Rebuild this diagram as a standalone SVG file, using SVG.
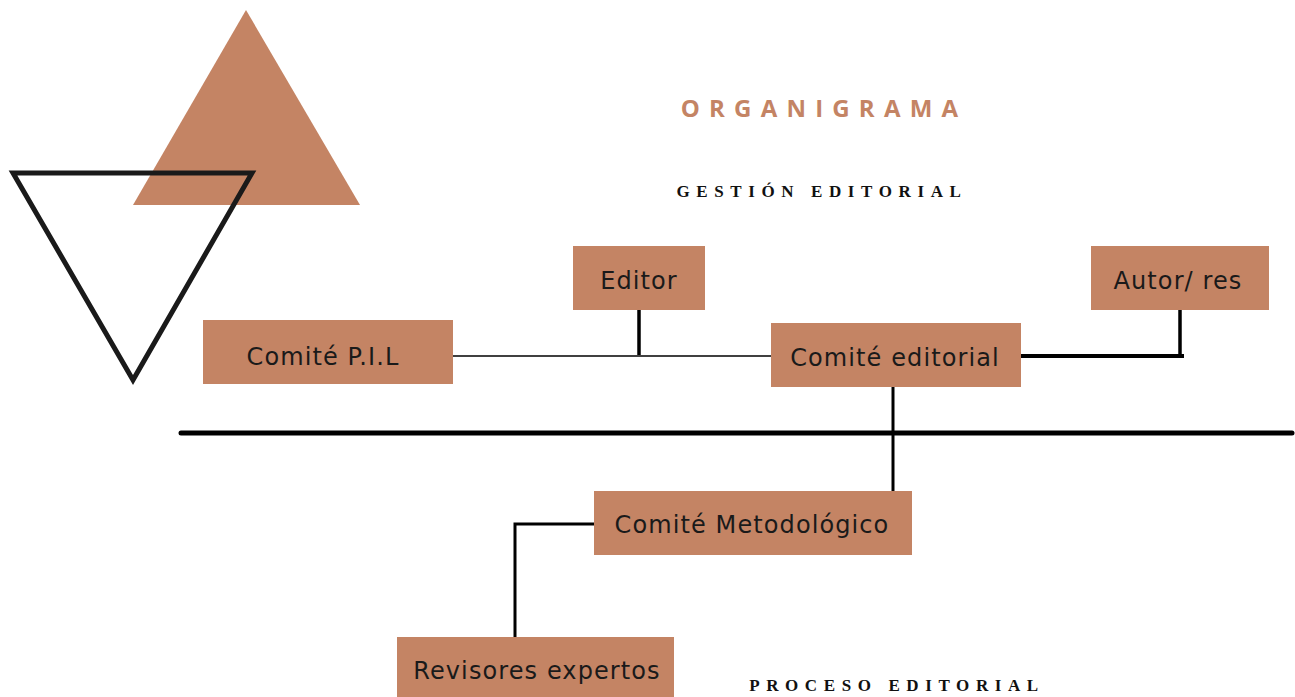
<svg xmlns="http://www.w3.org/2000/svg" width="1295" height="697" viewBox="0 0 1295 697">
<style>
.box{fill:#C48464}
.lbl{font-family:"DejaVu Sans","Open Sans",sans-serif;font-size:24px;letter-spacing:1.1px;fill:#1a1a1a;text-anchor:middle}
.ln{stroke:#000;fill:none}
.head{font-family:"Liberation Serif","DejaVu Serif",serif;font-weight:bold;font-size:17px;letter-spacing:6.6px;fill:#111;text-anchor:middle}
</style>
<rect width="1295" height="697" fill="#fff"/>
<g id="decor">
<polygon points="246,10 360,205 133,205" fill="#C48464"/>
<polygon points="13,173 252,173 133,380" fill="none" stroke="#1a1a1a" stroke-width="5"/>
</g>
<g id="titles">
<text x="824" y="117" font-family="Open Sans, DejaVu Sans, sans-serif" font-weight="bold" font-size="24" letter-spacing="9.2" fill="#C48464" text-anchor="middle">ORGANIGRAMA</text>
<text class="head" x="822" y="197">GESTIÓN EDITORIAL</text>
<text class="head" x="897" y="691">PROCESO EDITORIAL</text>
</g>
<g id="connectors">
<line class="ln" x1="453" y1="356" x2="771" y2="356" stroke-width="1.5"/>
<line class="ln" x1="639" y1="310" x2="639" y2="355" stroke-width="3.5"/>
<line class="ln" x1="1021" y1="356" x2="1184" y2="356" stroke-width="4"/>
<line class="ln" x1="1180" y1="310" x2="1180" y2="358" stroke-width="3.5"/>
<line class="ln" x1="181" y1="433" x2="1292" y2="433" stroke-width="5" stroke-linecap="round"/>
<line class="ln" x1="893" y1="387" x2="893" y2="491" stroke-width="3"/>
<polyline class="ln" points="594,524 515,524 515,637" stroke-width="3"/>
</g>
<g id="n-pil"><rect class="box" x="203" y="320" width="250" height="64"/><text class="lbl" x="323" y="365">Comité P.I.L</text></g>
<g id="n-editor"><rect class="box" x="573" y="246" width="132" height="64"/><text class="lbl" x="639" y="289">Editor</text></g>
<g id="n-comite-ed"><rect class="box" x="771" y="323" width="250" height="64"/><text class="lbl" x="895" y="366">Comité editorial</text></g>
<g id="n-autor"><rect class="box" x="1091" y="246" width="178" height="64"/><text class="lbl" x="1178" y="289">Autor/ res</text></g>
<g id="n-metod"><rect class="box" x="594" y="491" width="318" height="64"/><text class="lbl" x="752" y="533">Comité Metodológico</text></g>
<g id="n-revis"><rect class="box" x="397" y="637" width="277" height="60"/><text class="lbl" x="537" y="679">Revisores expertos</text></g>
</svg>
